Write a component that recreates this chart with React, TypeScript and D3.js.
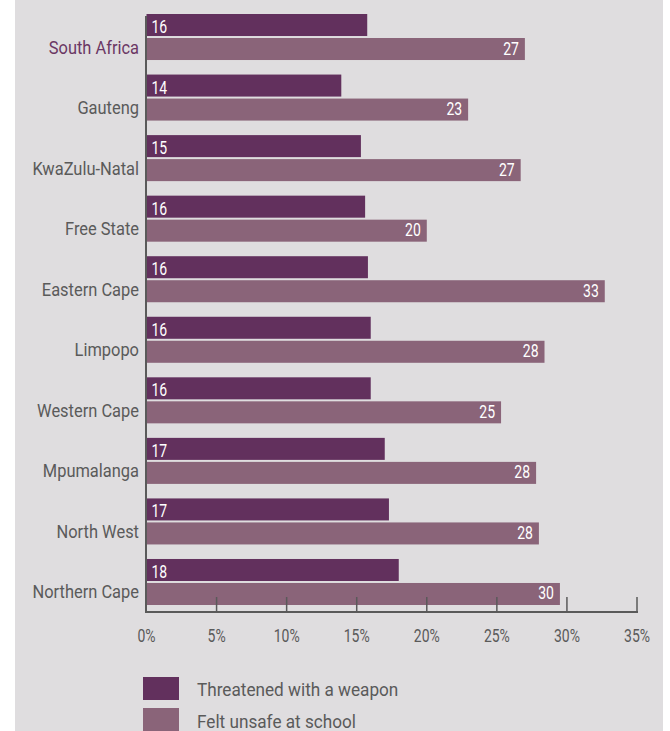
import React from "react";
import * as d3 from "d3";

const categories = [
  "South Africa",
  "Gauteng",
  "KwaZulu-Natal",
  "Free State",
  "Eastern Cape",
  "Limpopo",
  "Western Cape",
  "Mpumalanga",
  "North West",
  "Northern Cape",
];
const threatened = [15.75, 13.9, 15.3, 15.6, 15.8, 16.0, 16.0, 17.0, 17.3, 18.0];
const threatenedLabels = ["16", "14", "15", "16", "16", "16", "16", "17", "17", "18"];
const unsafe = [27.0, 22.95, 26.7, 20.0, 32.7, 28.4, 25.3, 27.8, 28.0, 29.5];
const unsafeLabels = ["27", "23", "27", "20", "33", "28", "25", "28", "28", "30"];
const seriesNames = ["Threatened with a weapon", "Felt unsafe at school"];
const ticks = [0, 5, 10, 15, 20, 25, 30, 35];

const W = 670;
const H = 731;
const FONT = "Roboto, 'DejaVu Sans Condensed', sans-serif";
const C_DARK = "#62305d";
const C_LIGHT = "#8a6479";
const BG = "#dfdddf";
const TEXT = "#5a5a5a";
const AXIS = "#5a5a5a";

type TProps = {
  x: number;
  y: number;
  sx: number;
  size: number;
  fill: string;
  anchor?: "start" | "middle" | "end";
  children: React.ReactNode;
};

function CText({ x, y, sx, size, fill, anchor = "start", children }: TProps) {
  return (
    <text
      transform={`translate(${x},${y}) scale(${sx},1)`}
      fill={fill}
      fontSize={size}
      textAnchor={anchor}
    >
      {children}
    </text>
  );
}

export default function App() {
  const x = d3.scaleLinear().domain([0, 35]).range([146.5, 637]);
  const y = d3
    .scaleBand<string>()
    .domain(categories)
    .range([14, 605])
    .paddingInner(0.24)
    .paddingOuter(0);
  const inner = d3
    .scaleBand<string>()
    .domain(seriesNames)
    .range([0, y.bandwidth()])
    .paddingInner(0.083)
    .paddingOuter(0);
  const bh = inner.bandwidth();
  const axisY = 612;

  return (
    <svg
      width={W}
      height={H}
      style={{ position: "absolute", left: 0, top: 0, display: "block" }}
      fontFamily={FONT}
    >
      <rect x={15} y={0} width={648} height={H} fill={BG} />
      {categories.map((c, i) => {
        const y0 = y(c)!;
        const yT = y0 + inner(seriesNames[0])!;
        const yU = y0 + inner(seriesNames[1])!;
        return (
          <g key={c}>
            <rect x={x(0)} y={yT} width={x(threatened[i]) - x(0)} height={bh} fill={C_DARK} />
            <rect x={x(0)} y={yU} width={x(unsafe[i]) - x(0)} height={bh} fill={C_LIGHT} />
            <CText x={x(0) + 5} y={yT + bh / 2 + 8} sx={0.8} size={17.5} fill="#fff">
              {threatenedLabels[i]}
            </CText>
            <CText
              x={x(unsafe[i]) - 6}
              y={yU + bh / 2 + 5.5}
              sx={0.8}
              size={17.5}
              fill="#fff"
              anchor="end"
            >
              {unsafeLabels[i]}
            </CText>
            <CText
              x={139}
              y={yU + bh / 2 + 4.5}
              sx={0.94}
              size={17.5}
              fill={i === 0 ? "#6b3764" : TEXT}
              anchor="end"
            >
              {c}
            </CText>
          </g>
        );
      })}
      <line x1={146} x2={146} y1={16} y2={axisY + 1} stroke={AXIS} strokeWidth={2} />
      <line x1={146} x2={x(35) + 1} y1={axisY} y2={axisY} stroke={AXIS} strokeWidth={2} />
      {ticks.map((t) => (
        <g key={t}>
          {t > 0 && (
            <line x1={x(t)} x2={x(t)} y1={axisY - 15} y2={axisY} stroke={AXIS} strokeWidth={1.5} />
          )}
          <CText x={x(t)} y={642} sx={0.8} size={17.5} fill={TEXT} anchor="middle">
            {t}%
          </CText>
        </g>
      ))}
      {seriesNames.map((s, i) => (
        <g key={s}>
          <rect x={143} y={677 + i * 31} width={36} height={23} fill={i === 0 ? C_DARK : C_LIGHT} />
          <CText x={197} y={696 + i * 32} sx={0.955} size={18} fill={TEXT}>
            {s}
          </CText>
        </g>
      ))}
    </svg>
  );
}
